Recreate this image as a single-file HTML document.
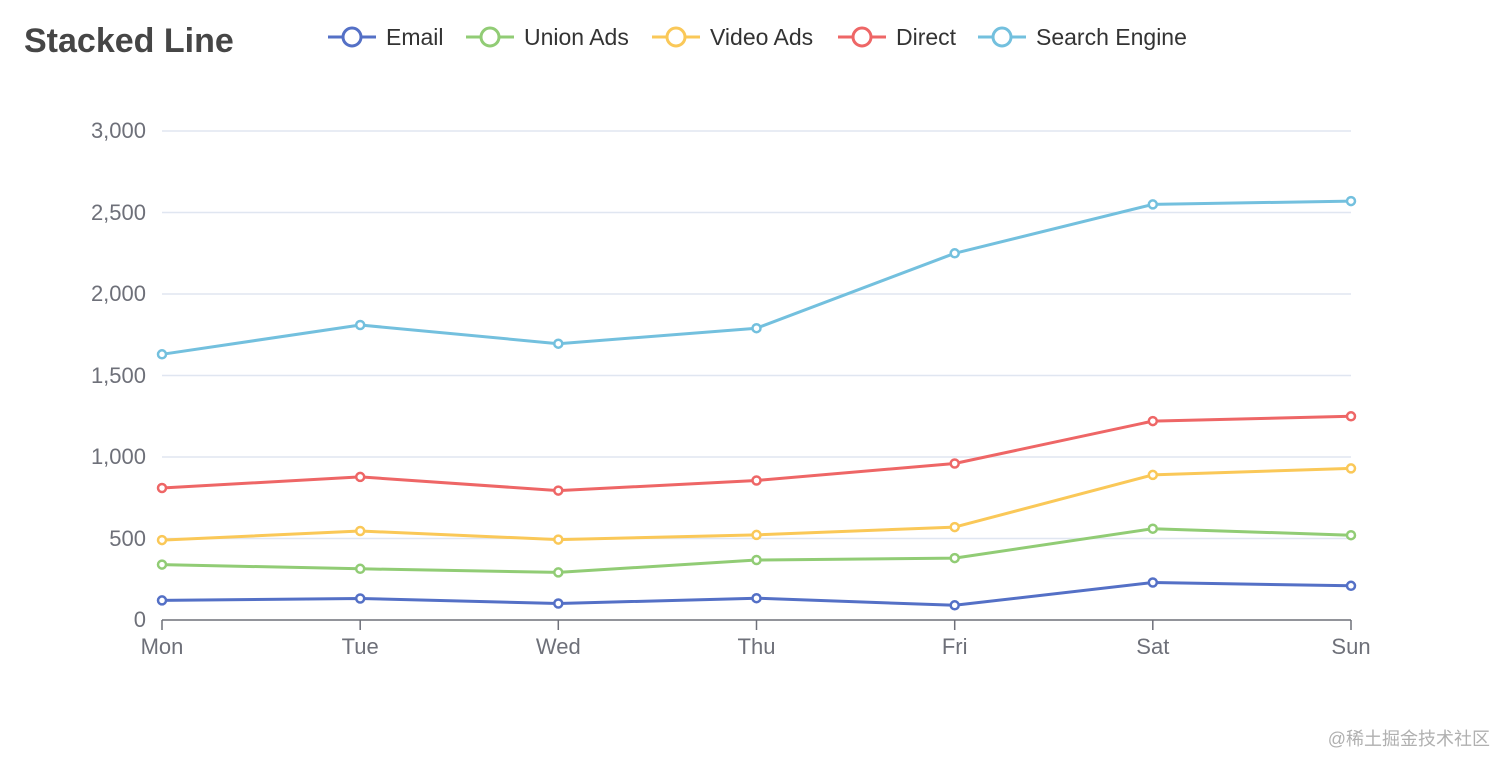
<!DOCTYPE html>
<html><head><meta charset="utf-8"><style>
html,body{margin:0;padding:0;background:#fff;}
svg{display:block;font-family:"Liberation Sans","Noto Sans CJK SC",sans-serif;}
</style></head><body>
<svg width="1512" height="770" viewBox="0 0 1512 770">
<text x="24" y="52" font-size="34" font-weight="bold" fill="#464646">Stacked Line</text>
<g font-size="23" fill="#333" stroke-width="3">
<line x1="328" y1="37" x2="376" y2="37" stroke="#5470c6"/><circle cx="352" cy="37" r="9" fill="#fff" stroke="#5470c6"/><text x="386" y="45" stroke="none">Email</text>
<line x1="466" y1="37" x2="514" y2="37" stroke="#91cc75"/><circle cx="490" cy="37" r="9" fill="#fff" stroke="#91cc75"/><text x="524" y="45" stroke="none">Union Ads</text>
<line x1="652" y1="37" x2="700" y2="37" stroke="#fac858"/><circle cx="676" cy="37" r="9" fill="#fff" stroke="#fac858"/><text x="710" y="45" stroke="none">Video Ads</text>
<line x1="838" y1="37" x2="886" y2="37" stroke="#ee6666"/><circle cx="862" cy="37" r="9" fill="#fff" stroke="#ee6666"/><text x="896" y="45" stroke="none">Direct</text>
<line x1="978" y1="37" x2="1026" y2="37" stroke="#73c0de"/><circle cx="1002" cy="37" r="9" fill="#fff" stroke="#73c0de"/><text x="1036" y="45" stroke="none">Search Engine</text>
</g>
<g stroke="#e0e6f1" stroke-width="1.5">
<line x1="162" y1="131" x2="1351" y2="131"/><line x1="162" y1="212.5" x2="1351" y2="212.5"/><line x1="162" y1="294" x2="1351" y2="294"/><line x1="162" y1="375.5" x2="1351" y2="375.5"/><line x1="162" y1="457" x2="1351" y2="457"/><line x1="162" y1="538.5" x2="1351" y2="538.5"/>
</g>
<line x1="162" y1="620" x2="1351" y2="620" stroke="#6e7079" stroke-width="1.5"/>
<g stroke="#6e7079" stroke-width="1.5">
<line x1="162" y1="620" x2="162" y2="630"/><line x1="360.2" y1="620" x2="360.2" y2="630"/><line x1="558.3" y1="620" x2="558.3" y2="630"/><line x1="756.5" y1="620" x2="756.5" y2="630"/><line x1="954.7" y1="620" x2="954.7" y2="630"/><line x1="1152.8" y1="620" x2="1152.8" y2="630"/><line x1="1351" y1="620" x2="1351" y2="630"/>
</g>
<g font-size="22" fill="#6e7079" text-anchor="end">
<text x="146" y="138">3,000</text><text x="146" y="220">2,500</text><text x="146" y="301">2,000</text><text x="146" y="383">1,500</text><text x="146" y="464">1,000</text><text x="146" y="546">500</text><text x="146" y="627">0</text>
</g>
<g font-size="22" fill="#6e7079" text-anchor="middle">
<text x="162" y="654">Mon</text><text x="360.2" y="654">Tue</text><text x="558.3" y="654">Wed</text><text x="756.5" y="654">Thu</text><text x="954.7" y="654">Fri</text><text x="1152.8" y="654">Sat</text><text x="1351" y="654">Sun</text>
</g>
<g fill="none" stroke-width="3" stroke-linejoin="round">
<polyline stroke="#5470c6" points="162,600.4 360.2,598.5 558.3,603.5 756.5,598.2 954.7,605.3 1152.8,582.5 1351,585.8"/>
<polyline stroke="#91cc75" points="162,564.6 360.2,568.8 558.3,572.4 756.5,560 954.7,558.1 1152.8,528.7 1351,535.2"/>
<polyline stroke="#fac858" points="162,540.1 360.2,531 558.3,539.6 756.5,534.9 954.7,527.1 1152.8,474.9 1351,468.4"/>
<polyline stroke="#ee6666" points="162,488 360.2,476.9 558.3,490.6 756.5,480.5 954.7,463.5 1152.8,421.1 1351,416.3"/>
<polyline stroke="#73c0de" points="162,354.3 360.2,325 558.3,343.7 756.5,328.2 954.7,253.3 1152.8,204.4 1351,201.1"/>
</g>
<g fill="#fff" stroke-width="2.5">
<g stroke="#5470c6"><circle cx="162" cy="600.4" r="4"/><circle cx="360.2" cy="598.5" r="4"/><circle cx="558.3" cy="603.5" r="4"/><circle cx="756.5" cy="598.2" r="4"/><circle cx="954.7" cy="605.3" r="4"/><circle cx="1152.8" cy="582.5" r="4"/><circle cx="1351" cy="585.8" r="4"/></g>
<g stroke="#91cc75"><circle cx="162" cy="564.6" r="4"/><circle cx="360.2" cy="568.8" r="4"/><circle cx="558.3" cy="572.4" r="4"/><circle cx="756.5" cy="560" r="4"/><circle cx="954.7" cy="558.1" r="4"/><circle cx="1152.8" cy="528.7" r="4"/><circle cx="1351" cy="535.2" r="4"/></g>
<g stroke="#fac858"><circle cx="162" cy="540.1" r="4"/><circle cx="360.2" cy="531" r="4"/><circle cx="558.3" cy="539.6" r="4"/><circle cx="756.5" cy="534.9" r="4"/><circle cx="954.7" cy="527.1" r="4"/><circle cx="1152.8" cy="474.9" r="4"/><circle cx="1351" cy="468.4" r="4"/></g>
<g stroke="#ee6666"><circle cx="162" cy="488" r="4"/><circle cx="360.2" cy="476.9" r="4"/><circle cx="558.3" cy="490.6" r="4"/><circle cx="756.5" cy="480.5" r="4"/><circle cx="954.7" cy="463.5" r="4"/><circle cx="1152.8" cy="421.1" r="4"/><circle cx="1351" cy="416.3" r="4"/></g>
<g stroke="#73c0de"><circle cx="162" cy="354.3" r="4"/><circle cx="360.2" cy="325" r="4"/><circle cx="558.3" cy="343.7" r="4"/><circle cx="756.5" cy="328.2" r="4"/><circle cx="954.7" cy="253.3" r="4"/><circle cx="1152.8" cy="204.4" r="4"/><circle cx="1351" cy="201.1" r="4"/></g>
</g>
<text x="1490" y="745" font-size="18" fill="#b0b0b0" text-anchor="end">@稀土掘金技术社区</text>
</svg>
</body></html>
